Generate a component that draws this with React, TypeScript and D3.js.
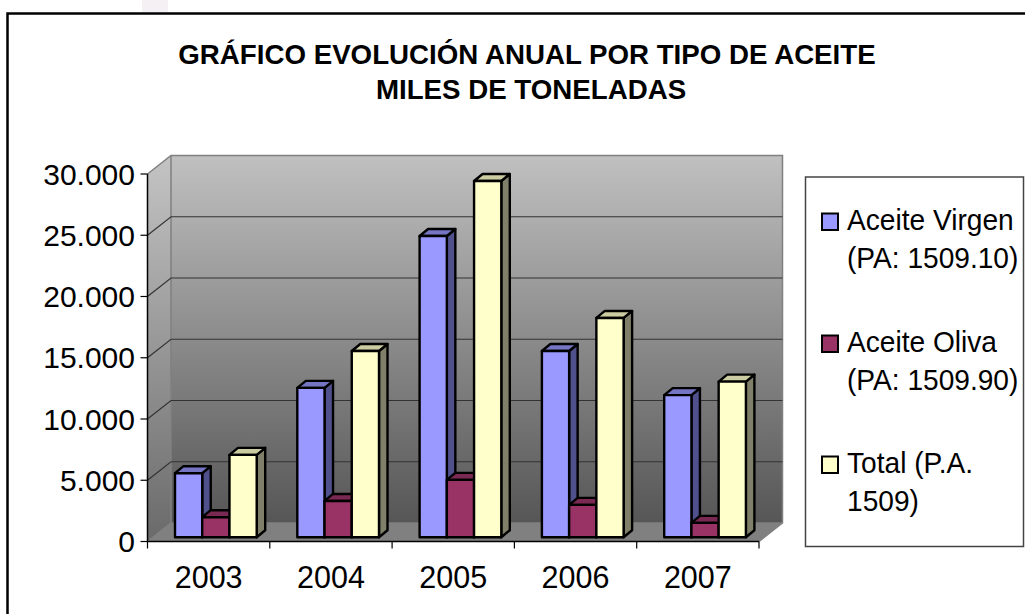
import React from "react";
import * as d3 from "d3";

const years = ["2003", "2004", "2005", "2006", "2007"];
const virgen = [5225, 12190, 24590, 15200, 11600];
const oliva = [1633, 2960, 4680, 2640, 1170];
const total = [6720, 15200, 29080, 17900, 12700];
const yTicks = [0, 5000, 10000, 15000, 20000, 25000, 30000];
const tickLabels = ["0", "5.000", "10.000", "15.000", "20.000", "25.000", "30.000"];
const seriesNames = ["Aceite Virgen", "Aceite Oliva", "Total"];
const seriesValues = [virgen, oliva, total];
const seriesFront = ["#9999ff", "#993366", "#ffffcc"];
const seriesSide = ["#50508c", "#5f2340", "#80806a"];
const seriesTop = ["#7575c4", "#7a2952", "#cccca3"];
const legendLines = [
  ["Aceite Virgen", "(PA: 1509.10)"],
  ["Aceite Oliva", "(PA: 1509.90)"],
  ["Total (P.A.", "1509)"],
];
const titleLines = ["GRÁFICO EVOLUCIÓN ANUAL POR TIPO DE ACEITE", "MILES DE TONELADAS"];

const FONT = "'Liberation Sans', Arial, sans-serif";
const W = 1025, H = 614;
const x0 = 147.5, x1 = 759, yB = 541.5, yT = 174;
const wallDx = 23.5, wallDy = 18.5;
const barDx = 8.5, barDy = 7;
const barBaseShift = 4.3;

const x = d3.scaleBand<string>().domain(years).range([x0, x1]);
const xs = d3.scaleBand<string>().domain(seriesNames).range([27.5, 109.2]);
const y = d3.scaleLinear().domain([0, 30000]).range([yB, yT]);
const poly = (pts: number[][]) => pts.map((p) => p.join(",")).join(" ");

export default function App() {
  const wr = x1 + wallDx, wl = x0 + wallDx;
  const wt = y(30000) - wallDy, wb = yB - wallDy;
  return (
    <svg width={W} height={H} viewBox={`0 0 ${W} ${H}`} style={{ position: "fixed", left: 0, top: 0, background: "#fff" }} fontFamily={FONT}>
      <defs>
        <linearGradient id="wall" x1="0" y1="0" x2="0" y2="1">
          <stop offset="0" stopColor="#c0c0c0" />
          <stop offset="1" stopColor="#565656" />
        </linearGradient>
        <linearGradient id="side" x1="0" y1="0" x2="0" y2="1">
          <stop offset="0" stopColor="#c4c4c4" />
          <stop offset="1" stopColor="#6a6a6a" />
        </linearGradient>
      </defs>
      <rect x={142} y={0} width={26} height={12} fill="#f4f0f4" />
      <path d={`M${W} 13.5H7.5V${H}`} fill="none" stroke="#000" strokeWidth={2.5} />
      {titleLines.map((t, i) => (
        <text key={t} x={[527, 531][i]} y={[64, 98.5][i]} textAnchor="middle" fontSize={27.7} fontWeight="bold" fill="#000">{t}</text>
      ))}
      {/* walls */}
      <polygon points={poly([[x0, yT], [wl, wt], [wl, wb], [x0, yB]])} fill="url(#side)" />
      <rect x={wl} y={wt} width={x1 - x0} height={wb - wt} fill="url(#wall)" />
      <polygon points={poly([[x0, yB], [wl, wb], [wr, wb], [x1, yB]])} fill="#808080" />
      <path d={`M${x0} ${yT}L${wl} ${wt}H${wr}V${wb}L${x1} ${yB}M${wl} ${wt}V${wb}L${x0} ${yB}M${wl} ${wb}H${wr}`} fill="none" stroke="#808080" strokeWidth={1.5} />
      {yTicks.slice(1, -1).map((t) => (
        <path key={t} d={`M${x0} ${y(t)}L${wl} ${y(t) - wallDy}H${wr}`} fill="none" stroke="#333" strokeWidth={1.2} />
      ))}
      {/* bars */}
      {years.map((yr, i) =>
        seriesNames.map((s, k) => {
          const l = x(yr)! + xs(s)!;
          const r = l + xs.bandwidth();
          const b = y(0) - barBaseShift;
          const t = y(seriesValues[k][i]) - barBaseShift;
          return (
            <g key={yr + s} stroke="#000" strokeWidth={2.4} strokeLinejoin="round">
              <polygon points={poly([[r, t], [r + barDx, t - barDy], [r + barDx, b - barDy], [r, b]])} fill={seriesSide[k]} />
              <polygon points={poly([[l, t], [l + barDx, t - barDy], [r + barDx, t - barDy], [r, t]])} fill={seriesTop[k]} />
              <rect x={l} y={t} width={r - l} height={b - t} fill={seriesFront[k]} />
            </g>
          );
        })
      )}
      {/* axes */}
      <path d={`M${x0} ${yT}V${yB}H${x1}`} fill="none" stroke="#000" strokeWidth={1.5} />
      {yTicks.map((t, i) => (
        <g key={t}>
          <line x1={x0 - 7} x2={x0} y1={y(t)} y2={y(t)} stroke="#000" strokeWidth={1.2} />
          <text x={135} y={y(t) + 10.5} textAnchor="end" fontSize={30} fill="#000">{tickLabels[i]}</text>
        </g>
      ))}
      {[...years, "end"].map((yr, i) => {
        const tx = x0 + i * x.step();
        return <line key={yr} x1={tx} x2={tx} y1={yB} y2={yB + 7} stroke="#000" strokeWidth={1.2} />;
      })}
      {years.map((yr) => (
        <text key={yr} x={x(yr)! + x.bandwidth() / 2} y={588} textAnchor="middle" fontSize={30.5} fill="#000">{yr}</text>
      ))}
      {/* legend */}
      <rect x={805.5} y={177} width={218} height={369.5} fill="#fff" stroke="#444" strokeWidth={1.5} />
      {legendLines.map((lines, k) => {
        const cy = [222, 344, 465][k];
        return (
          <g key={k}>
            <rect x={822} y={cy - 8.5} width={16} height={16.5} fill={seriesFront[k]} stroke="#000" strokeWidth={2} />
            {lines.map((t, j) => (
              <text key={t} transform={`translate(847 ${cy + 8 + j * 38}) scale(0.97 1)`} fontSize={29} fill="#000">{t}</text>
            ))}
          </g>
        );
      })}
    </svg>
  );
}
